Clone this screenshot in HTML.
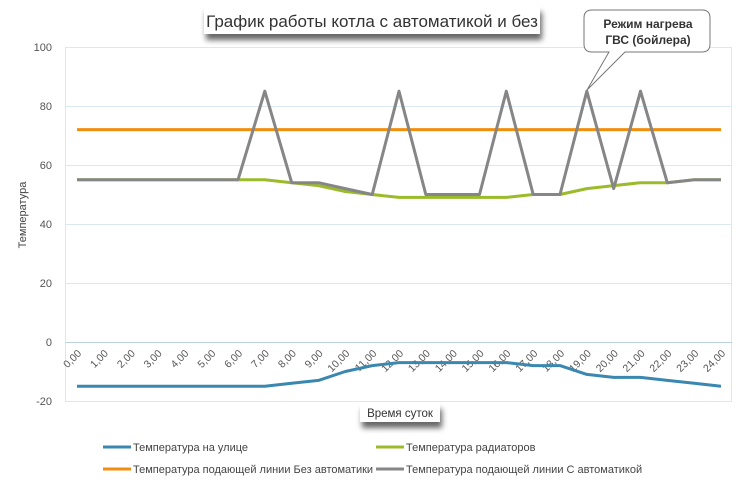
<!DOCTYPE html>
<html><head><meta charset="utf-8"><style>
body{margin:0;background:#fff;}
svg{display:block;font-family:"Liberation Sans","DejaVu Sans",sans-serif;}
</style></head><body>
<svg width="744" height="485" viewBox="0 0 744 485">
<defs>
<filter id="sh" x="-20%" y="-50%" width="140%" height="250%"><feDropShadow dx="2" dy="6" stdDeviation="3" flood-color="#000" flood-opacity="0.6"/></filter>
</defs>
<rect width="744" height="485" fill="#fff"/>
<g stroke="#dbe8f0" stroke-width="1">
<line x1="65" y1="47.5" x2="732" y2="47.5"/>
<line x1="65" y1="106.5" x2="732" y2="106.5"/>
<line x1="65" y1="165.5" x2="732" y2="165.5"/>
<line x1="65" y1="224.5" x2="732" y2="224.5"/>
<line x1="65" y1="283.5" x2="732" y2="283.5"/>
<line x1="65" y1="401.5" x2="732" y2="401.5"/>
<line x1="65.5" y1="47" x2="65.5" y2="401"/>
<line x1="731.5" y1="47" x2="731.5" y2="401"/>
</g>
<line x1="65" y1="342.5" x2="732" y2="342.5" stroke="#bcd3e0" stroke-width="1"/>
<g font-size="11" fill="#555" text-anchor="end">
<text x="52" y="51">100</text><text x="52" y="110">80</text><text x="52" y="169">60</text>
<text x="52" y="228">40</text><text x="52" y="287">20</text><text x="52" y="346">0</text><text x="52" y="405">-20</text>
</g>
<text transform="translate(26,215) rotate(-90)" font-size="11" fill="#444" text-anchor="middle">Температура</text>
<g font-size="10.5" fill="#555" text-anchor="end">
<text transform="translate(82,354) rotate(-45)">0,00</text>
<text transform="translate(108.8,354) rotate(-45)">1,00</text>
<text transform="translate(135.7,354) rotate(-45)">2,00</text>
<text transform="translate(162.5,354) rotate(-45)">3,00</text>
<text transform="translate(189.3,354) rotate(-45)">4,00</text>
<text transform="translate(216.2,354) rotate(-45)">5,00</text>
<text transform="translate(243,354) rotate(-45)">6,00</text>
<text transform="translate(269.8,354) rotate(-45)">7,00</text>
<text transform="translate(296.7,354) rotate(-45)">8,00</text>
<text transform="translate(323.5,354) rotate(-45)">9,00</text>
<text transform="translate(350.3,354) rotate(-45)">10,00</text>
<text transform="translate(377.2,354) rotate(-45)">11,00</text>
<text transform="translate(404,354) rotate(-45)">12,00</text>
<text transform="translate(430.8,354) rotate(-45)">13,00</text>
<text transform="translate(457.7,354) rotate(-45)">14,00</text>
<text transform="translate(484.5,354) rotate(-45)">15,00</text>
<text transform="translate(511.3,354) rotate(-45)">16,00</text>
<text transform="translate(538.2,354) rotate(-45)">17,00</text>
<text transform="translate(565,354) rotate(-45)">18,00</text>
<text transform="translate(591.8,354) rotate(-45)">19,00</text>
<text transform="translate(618.7,354) rotate(-45)">20,00</text>
<text transform="translate(645.5,354) rotate(-45)">21,00</text>
<text transform="translate(672.3,354) rotate(-45)">22,00</text>
<text transform="translate(699.2,354) rotate(-45)">23,00</text>
<text transform="translate(726,354) rotate(-45)">24,00</text>
</g>
<g fill="none" stroke-width="3" stroke-linejoin="round">
<polyline id="s1" stroke="#3a87b0"/>
<polyline id="s2" stroke="#9bbb2a"/>
<polyline id="s3" stroke="#f28e0e"/>
<polyline id="s4" stroke="#868686"/>
</g>
<rect x="204" y="6" width="336" height="28" fill="#fff" filter="url(#sh)"/>
<text x="372" y="27" font-size="17" fill="#333" text-anchor="middle">График работы котла с автоматикой и без</text>
<path d="M592,10 h110 q8,0 8,8 v26 q0,8 -8,8 h-77 l-38,38 l22,-38 h-17 q-8,0 -8,-8 v-26 q0,-8 8,-8 z" fill="#fff" stroke="#777" stroke-width="1"/>
<text x="648" y="28" font-size="12" fill="#333" text-anchor="middle" font-weight="bold">Режим нагрева</text>
<text x="648" y="44" font-size="12" fill="#333" text-anchor="middle" font-weight="bold">ГВС (бойлера)</text>
<rect x="360" y="403" width="80" height="19" fill="#fff" filter="url(#sh)"/>
<text x="400" y="417" font-size="11.5" fill="#333" text-anchor="middle">Время суток</text>
<g font-size="11" fill="#444">
<line x1="103" y1="447" x2="131" y2="447" stroke="#3a87b0" stroke-width="3"/><text x="133" y="451">Температура на улице</text>
<line x1="376" y1="447" x2="404" y2="447" stroke="#9bbb2a" stroke-width="3"/><text x="406" y="451">Температура радиаторов</text>
<line x1="103" y1="469" x2="131" y2="469" stroke="#f28e0e" stroke-width="3"/><text x="133" y="473">Температура подающей линии Без автоматики</text>
<line x1="376" y1="469" x2="404" y2="469" stroke="#868686" stroke-width="3"/><text x="406" y="473">Температура подающей линии С автоматикой</text>
</g>
<script>
var X=function(i){return 77+i*644/24},Y=function(v){return 342-v*2.95};
var d=[
[-15,-15,-15,-15,-15,-15,-15,-15,-14,-13,-10,-8,-7,-7,-7,-7,-7,-8,-8,-11,-12,-12,-13,-14,-15],
[55,55,55,55,55,55,55,55,54,53,51,50,49,49,49,49,49,50,50,52,53,54,54,55,55],
Array(25).fill(72),
[55,55,55,55,55,55,55,85,54,54,52,50,85,50,50,50,85,50,50,85,52,85,54,55,55]];
d.forEach(function(a,k){document.getElementById('s'+(k+1)).setAttribute('points',a.map(function(v,i){return X(i).toFixed(1)+','+Y(v).toFixed(1)}).join(' '))});
</script>
</svg>
</body></html>
